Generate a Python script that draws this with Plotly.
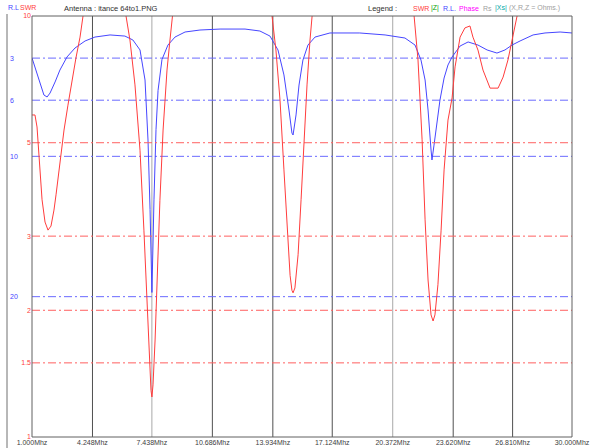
import plotly.graph_objects as go

# Return loss trace (dB) versus frequency (MHz)
rl_freq = [1.00, 1.21, 1.43, 1.64, 1.81, 1.97, 2.24, 2.50, 2.88, 3.31, 3.85, 4.38, 5.19, 5.99,
           6.42, 6.80, 7.07, 7.23, 7.34, 7.44, 7.55, 7.66, 7.77, 7.98, 8.30, 8.68, 9.22, 10.02,
           11.10, 12.44, 13.24, 13.78, 14.21, 14.53, 14.80, 14.96, 15.02, 15.18, 15.34, 15.55,
           15.82, 16.20, 17.00, 18.60, 19.96, 21.03, 21.57, 21.89, 22.11, 22.27, 22.43, 22.48,
           22.59, 22.75, 22.91, 23.13, 23.34, 23.56, 23.99, 24.42, 24.95, 25.44, 25.97, 26.40,
           26.78, 27.21, 27.91, 28.55, 29.36, 30.00]
rl_db = [2.99, 3.85, 4.92, 5.63, 5.77, 5.49, 4.70, 3.85, 2.92, 2.28, 1.78, 1.50, 1.35, 1.43,
         1.71, 2.42, 4.56, 8.84, 13.8, 19.7, 13.1, 8.10, 5.30, 3.10, 2.07, 1.50, 1.14, 1.00,
         0.93, 0.93, 1.07, 1.43, 2.42, 4.20, 6.70, 8.34, 8.48, 7.05, 4.92, 3.14,
         2.07, 1.50, 1.21, 1.21, 1.35, 1.57, 2.07, 3.14, 4.56, 6.70, 9.55, 10.26,
         9.20, 7.40, 5.99, 4.42, 3.49, 2.92, 2.14, 1.85, 2.07, 2.42, 2.64, 2.42,
         2.07, 1.78, 1.35, 1.21, 1.14, 1.21]

# SWR trace versus frequency (MHz); values above 10 run off the top of the scale
swr_freq = [1.00, 1.16, 1.27, 1.38, 1.54, 1.70, 1.86, 2.02, 2.18, 2.29, 2.50, 2.72, 2.93, 3.15,
            3.36, 3.58, 3.74, 3.90, 5.00,
            6.05, 6.26, 6.53, 6.80, 7.01, 7.18, 7.28, 7.39, 7.44, 7.50, 7.61, 7.71, 7.87, 8.04,
            8.25, 8.41, 8.57, 8.73, 11.0,
            13.89, 14.10, 14.32, 14.53, 14.70, 14.86, 14.96, 15.02, 15.12, 15.29, 15.45, 15.61,
            15.77, 15.93, 16.04, 16.20, 19.0,
            21.52, 21.73, 21.95, 22.11, 22.27, 22.43, 22.54, 22.64, 22.80, 22.97, 23.13, 23.34,
            23.56, 23.72, 23.99, 24.25, 24.36, 24.52, 24.68, 24.95, 25.22, 25.60, 26.03, 26.30,
            26.56, 26.78, 27.05, 27.21, 30.00]
swr_val = [5.82, 5.82, 5.45, 4.55, 3.66, 3.24, 3.10, 3.17, 3.46, 3.76, 4.55, 5.36, 6.14, 7.05,
           7.95, 8.91, 10.0, 12.0, 30.0,
           10.0, 8.77, 6.86, 4.80, 3.10, 2.12, 1.61, 1.29, 1.245, 1.33, 1.70, 2.36, 3.65, 5.36,
           7.44, 8.77, 10.0, 12.0, 30.0,
           10.0, 8.30, 6.31, 4.31, 3.10, 2.42, 2.23, 2.20, 2.26, 2.71, 3.66, 5.08,
           6.86, 8.77, 10.0, 12.0, 30.0,
           10.0, 7.86, 5.08, 3.28, 2.36, 1.95, 1.886, 1.95, 2.30, 3.10, 4.31, 5.66,
           6.39, 7.57, 8.91, 9.37, 9.42, 9.47, 8.91, 8.30, 7.44, 6.74, 6.74, 7.16,
           7.86, 8.77, 10.0, 12.0, 30.0]

# Axis ticks
freq_ticks = [1.000, 4.248, 7.438, 10.686, 13.934, 17.124, 20.372, 23.620, 26.810, 30.000]
freq_labels = ["1.000Mhz", "4.248Mhz", "7.438Mhz", "10.686Mhz", "13.934Mhz",
               "17.124Mhz", "20.372Mhz", "23.620Mhz", "26.810Mhz", "30.000Mhz"]
rl_ticks = [0, 3, 6, 10, 20, 30]
rl_labels = ["0dB", "3", "6", "10", "20", "30"]
rl_guides = [3, 6, 10, 20]
swr_ticks = [1, 1.5, 2, 3, 5, 10]
swr_labels = ["1", "1.5", "2", "3", "5", "10"]
swr_guides = [1.5, 2, 3, 5]
marker_freqs = [7.438, 20.372]

W, H = 594, 448
PL, PR, PT, PB = 32, 572, 16, 437
RED = "#ff3c3c"
BLUE = "#4646ff"
FONT = "Liberation Sans"

fig = go.Figure()

# dash-dot guide lines
for g in rl_guides:
    fig.add_trace(go.Scatter(x=[1, 30], y=[g, g], mode="lines", yaxis="y",
                             line=dict(color="#6a6aff", width=1, dash="8px,3px,2px,3px"),
                             hoverinfo="skip", showlegend=False))
for g in swr_guides:
    fig.add_trace(go.Scatter(x=[1, 30], y=[g, g], mode="lines", yaxis="y2",
                             line=dict(color="#ff6060", width=1, dash="8px,3px,2px,3px"),
                             hoverinfo="skip", showlegend=False))

fig.add_trace(go.Scatter(x=rl_freq, y=rl_db, mode="lines", yaxis="y",
                         line=dict(color=BLUE, width=1), showlegend=False))
fig.add_trace(go.Scatter(x=swr_freq, y=swr_val, mode="lines", yaxis="y2",
                         line=dict(color=RED, width=1), showlegend=False))

shapes = []
for f in freq_ticks[1:-1]:
    col = "#a8a8a8" if f in marker_freqs else "#505050"
    shapes.append(dict(type="line", xref="x", yref="paper", x0=f, x1=f,
                       y0=(H - PB) / H, y1=(H - PT) / H, layer="below",
                       line=dict(color=col, width=1)))
# plot frame
shapes.append(dict(type="rect", xref="paper", yref="paper",
                   x0=PL / W, x1=PR / W, y0=(H - PB) / H, y1=(H - PT) / H,
                   line=dict(color="#606060", width=1)))
# outer rule on the left edge
shapes.append(dict(type="line", xref="paper", yref="paper",
                   x0=7 / W, x1=7 / W, y0=0, y1=(H - 14) / H,
                   line=dict(color="#707070", width=1)))

annotations = []
def txt(x, y, s, color, size=7, anchor="left"):
    annotations.append(dict(xref="paper", yref="paper", x=x / W, y=1 - y / H, text=s,
                            showarrow=False, xanchor=anchor, yanchor="middle",
                            borderpad=0, font=dict(family=FONT, size=size, color=color)))

txt(7, 7, "R.L", BLUE)
txt(19, 7, "SWR", RED)
txt(63, 8, "Antenna : itance 64to1.PNG", "#303030", 7.5)
txt(367, 8, "Legend :", "#303030", 7.5)
txt(412, 8, "SWR", RED)
txt(430, 8, "|Z|", "#00a000")
txt(442, 8, "R.L.", BLUE)
txt(458, 8, "Phase", "#ff00ff")
txt(482, 8, "Rs", "#a0a0a0")
txt(494, 8, "|Xs|", "#00a8a8")
txt(508, 8, "(X,R,Z = Ohms.)", "#a0a0a0")

fig.update_layout(
    width=W, height=H, margin=dict(l=0, r=0, t=0, b=0, autoexpand=False),
    paper_bgcolor="white", plot_bgcolor="white", showlegend=False,
    font=dict(family=FONT, size=7, color="#404040"),
    xaxis=dict(domain=[PL / W, PR / W], range=[1, 30], tickvals=freq_ticks,
               ticktext=freq_labels, showgrid=False, zeroline=False, ticks="",
               ticklabelstandoff=0, tickfont=dict(size=7, color="#404040"),
               anchor="y2", automargin=False),
    yaxis=dict(domain=[(H - PB) / H, (H - PT) / H], range=[30, 0], tickvals=rl_ticks,
               ticktext=rl_labels, showgrid=False, zeroline=False, ticks="",
               anchor="free", position=6 / W, ticklabelposition="inside",
               tickfont=dict(size=7, color=BLUE), showline=False, automargin=False),
    yaxis2=dict(domain=[(H - PB) / H, (H - PT) / H], type="log", range=[0, 1],
                tickvals=swr_ticks, ticktext=swr_labels, showgrid=False, zeroline=False,
                ticks="", overlaying="y", anchor="free", position=PL / W, side="left",
                tickfont=dict(size=7, color=RED), ticklabelstandoff=1, automargin=False),
    shapes=shapes, annotations=annotations,
)

fig.write_html("out.html")
